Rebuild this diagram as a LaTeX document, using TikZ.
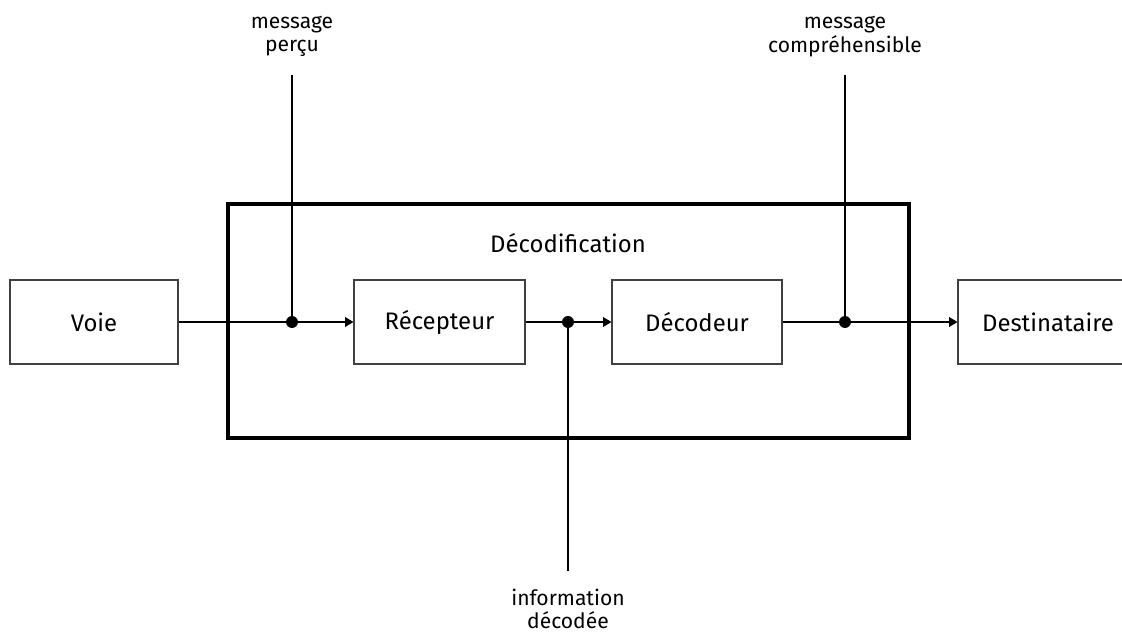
\documentclass[tikz,border=0pt]{standalone}
\usepackage{fontspec}
\setmainfont{Fira Sans}
\usetikzlibrary{positioning, arrows.meta}

\tikzset{
  block/.style={draw=black!75, line width=0.8pt, minimum height=2.1cm,
    font=\fontsize{17}{20}\selectfont},
  flow/.style={line width=0.9pt, -{Triangle[length=6pt, width=7pt]}},
  wire/.style={line width=0.9pt},
  junction/.style={circle, fill=black, inner sep=0pt, minimum size=8.5pt},
  tag/.style={align=center, font=\fontsize{15}{16.5}\selectfont}
}

\begin{document}
\begin{tikzpicture}

  % Fix the page size.
  \useasboundingbox (0,0) rectangle (28.05,15.875);
  \clip (0,0) rectangle (28.05,15.875);

  % Draw the large decoding frame.
  \node[draw, line width=2.6pt, minimum width=17.025cm, minimum height=5.85cm]
    (frame) at (14.2125,7.85) {};
  \node[font=\fontsize{17}{20}\selectfont] (title) at (14.2,9.8) {Décodification};

  % Draw the four blocks.
  \node[block, minimum width=4.2cm] (voie) at (2.35,7.825) {Voie};
  \node[block, minimum width=4.275cm] (recepteur) at (10.9875,7.825) {Récepteur};
  \node[block, minimum width=4.25cm] (decodeur) at (17.425,7.825) {Décodeur};
  \node[block, minimum width=4.5cm] (destinataire) at (26.2,7.825) {Destinataire};

  % Draw the junction points.
  \node[junction] (j1) at (7.3,7.825) {};
  \node[junction] (j2) at (14.2,7.825) {};
  \node[junction] (j3) at (21.125,7.825) {};

  % Draw the labels and the free ends of their lines.
  \node[tag] (percu) at (7.3,14.96) {message\\perçu};
  \node[tag] (comprehensible) at (21.125,14.96) {message\\compréhensible};
  \node[tag] (decodee) at (14.2,0.65) {information\\décodée};
  \coordinate (t1) at (7.3,14.0);
  \coordinate (t3) at (21.125,14.0);
  \coordinate (b2) at (14.2,1.6);

  % Draw the main flow.
  \draw[wire] (voie) -- (j1.center);
  \draw[flow] (j1.center) -- (recepteur);
  \draw[wire] (recepteur) -- (j2.center);
  \draw[flow] (j2.center) -- (decodeur);
  \draw[wire] (decodeur) -- (j3.center);
  \draw[flow] (j3.center) -- (destinataire);

  % Draw the side lines.
  \draw[wire] (t1) -- (j1.center);
  \draw[wire] (t3) -- (j3.center);
  \draw[wire] (j2.center) -- (b2);
\end{tikzpicture}
\end{document}
